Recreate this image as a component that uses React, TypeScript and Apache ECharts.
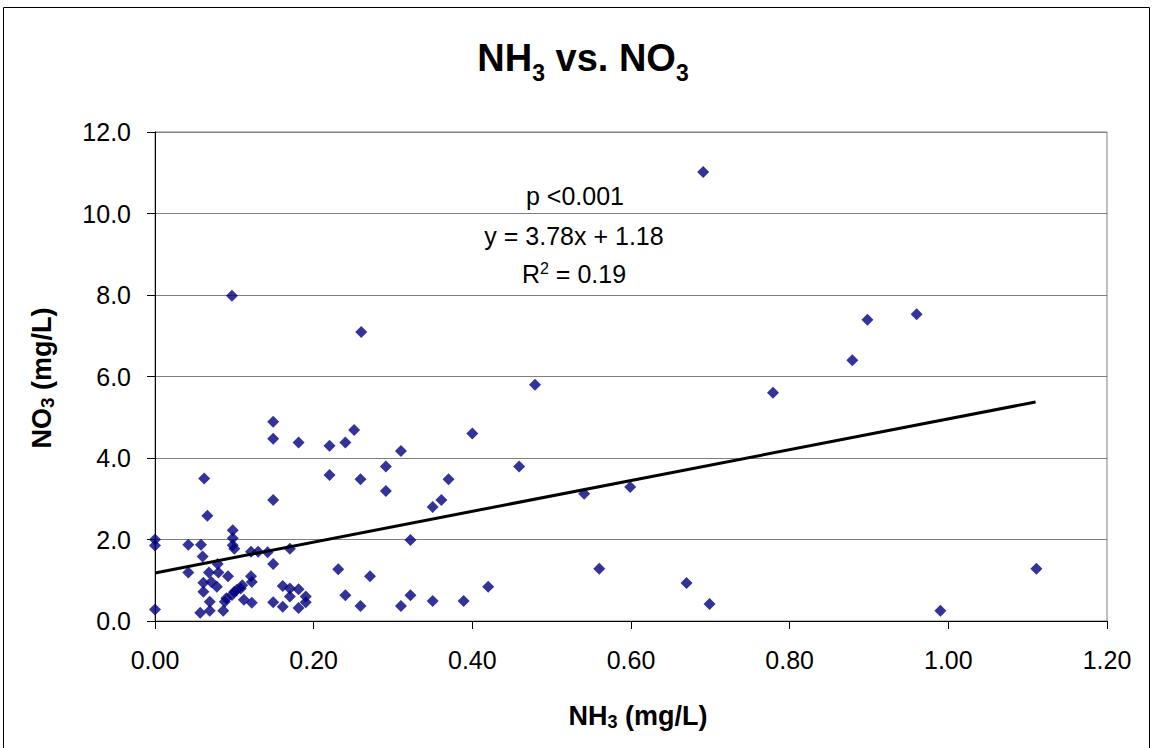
import React, { useEffect, useRef } from "react";
import * as echarts from "echarts";

const nh3 = [
  0.0, 0.0, 0.0, 0.042, 0.042, 0.058, 0.06, 0.062, 0.066, 0.061, 0.061, 0.057,
  0.068, 0.071, 0.069, 0.069, 0.08, 0.079, 0.078, 0.086, 0.088, 0.09, 0.092, 0.097,
  0.1, 0.103, 0.108, 0.11, 0.112, 0.098, 0.098, 0.098, 0.1, 0.097, 0.121, 0.13,
  0.142, 0.121, 0.122, 0.122, 0.149, 0.149, 0.149, 0.149, 0.149, 0.161, 0.161, 0.17,
  0.17, 0.17, 0.181, 0.181, 0.181, 0.19, 0.19, 0.22, 0.22, 0.231, 0.24, 0.24,
  0.251, 0.26, 0.259, 0.259, 0.271, 0.291, 0.291, 0.31, 0.31, 0.322, 0.322, 0.35,
  0.35, 0.361, 0.37, 0.389, 0.4, 0.42, 0.459, 0.479, 0.541, 0.56, 0.599, 0.67,
  0.691, 0.699, 0.779, 0.879, 0.898, 0.96, 0.99, 1.111,
];
const no3 = [
  2.0, 1.85, 0.28, 1.87, 1.19, 1.87, 1.58, 3.5, 2.58, 0.94, 0.72, 0.2,
  1.19, 0.96, 0.47, 0.25, 1.19, 1.4, 0.84, 0.25, 0.47, 0.56, 1.1, 0.64,
  0.72, 0.76, 0.8, 0.88, 0.52, 2.23, 2.03, 1.86, 1.77, 7.98, 1.7, 1.7,
  1.69, 1.1, 0.96, 0.45, 4.89, 4.47, 2.97, 1.4, 0.46, 0.86, 0.35, 1.77,
  0.8, 0.6, 4.38, 0.78, 0.32, 0.6, 0.46, 4.3, 3.58, 1.27, 4.38, 0.63,
  4.69, 7.09, 3.48, 0.37, 1.1, 3.79, 3.19, 4.17, 0.37, 1.99, 0.63, 2.8,
  0.49, 2.97, 3.48, 0.49, 4.6, 0.84, 3.79, 5.8, 3.12, 1.28, 3.29, 0.93,
  11.02, 0.42, 5.6, 6.4, 7.39, 7.53, 0.25, 1.28,
];

const slope = 3.78;
const intercept = 1.18;
const trendX = [0, 1.11];
const annotationLines = ["p <0.001", "y = 3.78x + 1.18"];
const rSquared = "0.19";

const FONT = "'Liberation Sans', Arial, sans-serif";

export default function App() {
  const ref = useRef<HTMLDivElement>(null);

  useEffect(() => {
    if (!ref.current) return;
    const chart = echarts.init(ref.current, undefined, { renderer: "svg" });
    const points = nh3.map((x, i) => [x, no3[i]]);
    const trend = trendX.map((x) => [x, intercept + slope * x]);

    chart.setOption({
      animation: false,
      backgroundColor: "#ffffff",
      textStyle: { fontFamily: FONT },
      grid: {
        left: 155,
        right: 45,
        top: 132,
        bottom: 127,
        show: true,
        borderColor: "#7f7f7f",
        borderWidth: 1,
      },
      xAxis: {
        type: "value",
        min: 0,
        max: 1.2,
        interval: 0.2,
        axisLine: { show: true, onZero: false, lineStyle: { color: "#000", width: 1 } },
        axisTick: { show: true, inside: false, length: 8, lineStyle: { color: "#000" } },
        splitLine: { show: false },
        axisLabel: {
          color: "#000",
          fontSize: 25,
          fontFamily: FONT,
          margin: 26,
          formatter: (v: number) => v.toFixed(2),
        },
      },
      yAxis: {
        type: "value",
        min: 0,
        max: 12,
        interval: 2,
        axisLine: { show: true, onZero: false, lineStyle: { color: "#000", width: 1 } },
        axisTick: { show: true, inside: false, length: 8, lineStyle: { color: "#000" } },
        splitLine: { show: true, lineStyle: { color: "#7f7f7f", width: 1 } },
        axisLabel: {
          color: "#000",
          fontSize: 25,
          fontFamily: FONT,
          margin: 24,
          formatter: (v: number) => v.toFixed(1),
        },
      },
      series: [
        {
          type: "scatter",
          data: points,
          symbol: "diamond",
          symbolSize: 12,
          itemStyle: { color: "#000080" },
          z: 3,
        },
        {
          type: "line",
          data: trend,
          symbol: "none",
          lineStyle: { color: "#000", width: 3 },
          z: 4,
        },
      ],
      graphic: [
        {
          type: "rect",
          shape: { x: 3.5, y: 7.5, width: 1146, height: 760 },
          style: { fill: "none", stroke: "#000", lineWidth: 1 },
          silent: true,
        },
        {
          type: "text",
          x: 583,
          y: 64,
          style: {
            text: "{a|NH}{s|3}{a| vs. NO}{s|3}",
            align: "center",
            verticalAlign: "middle",
            fontFamily: FONT,
            rich: {
              a: {
                fontSize: 38,
                fontWeight: "bold",
                fontFamily: FONT,
                lineHeight: 40,
                verticalAlign: "bottom",
                padding: [0, 0, 7, 0],
                fill: "#000",
              },
              s: {
                fontSize: 23,
                fontWeight: "bold",
                fontFamily: FONT,
                lineHeight: 23,
                verticalAlign: "bottom",
                fill: "#000",
              },
            },
          },
        },
        {
          type: "text",
          x: 638,
          y: 716,
          style: {
            text: "{a|NH}{s|3}{a| (mg/L)}",
            align: "center",
            verticalAlign: "middle",
            fontFamily: FONT,
            rich: {
              a: { fontSize: 27, fontWeight: "bold", fontFamily: FONT, lineHeight: 30, fill: "#000" },
              s: { fontSize: 18, fontWeight: "bold", fontFamily: FONT, lineHeight: 10, verticalAlign: "bottom", fill: "#000" },
            },
          },
        },
        {
          type: "text",
          x: 42,
          y: 378,
          rotation: Math.PI / 2,
          style: {
            text: "{a|NO}{s|3}{a| (mg/L)}",
            align: "center",
            verticalAlign: "middle",
            fontFamily: FONT,
            rich: {
              a: { fontSize: 27, fontWeight: "bold", fontFamily: FONT, lineHeight: 30, fill: "#000" },
              s: { fontSize: 19, fontWeight: "bold", fontFamily: FONT, lineHeight: 18, verticalAlign: "bottom", fill: "#000" },
            },
          },
        },
        {
          type: "text",
          x: 575,
          y: 196,
          style: {
            text: annotationLines[0],
            align: "center",
            verticalAlign: "middle",
            fontSize: 25,
            fontFamily: FONT,
            fill: "#000",
          },
        },
        {
          type: "text",
          x: 574,
          y: 236,
          style: {
            text: annotationLines[1],
            align: "center",
            verticalAlign: "middle",
            fontSize: 25,
            fontFamily: FONT,
            fill: "#000",
          },
        },
        {
          type: "text",
          x: 574,
          y: 274,
          style: {
            text: "{a|R}{p|2}{a| = " + rSquared + "}",
            align: "center",
            verticalAlign: "middle",
            fontFamily: FONT,
            rich: {
              a: { fontSize: 25, fontFamily: FONT, lineHeight: 28, fill: "#000" },
              p: { fontSize: 16, fontFamily: FONT, lineHeight: 12, verticalAlign: "top", fill: "#000" },
            },
          },
        },
      ],
    });

    return () => {
      chart.dispose();
    };
  }, []);

  return (
    <div
      ref={ref}
      style={{ position: "absolute", left: 0, top: 0, width: 1152, height: 748 }}
    />
  );
}
